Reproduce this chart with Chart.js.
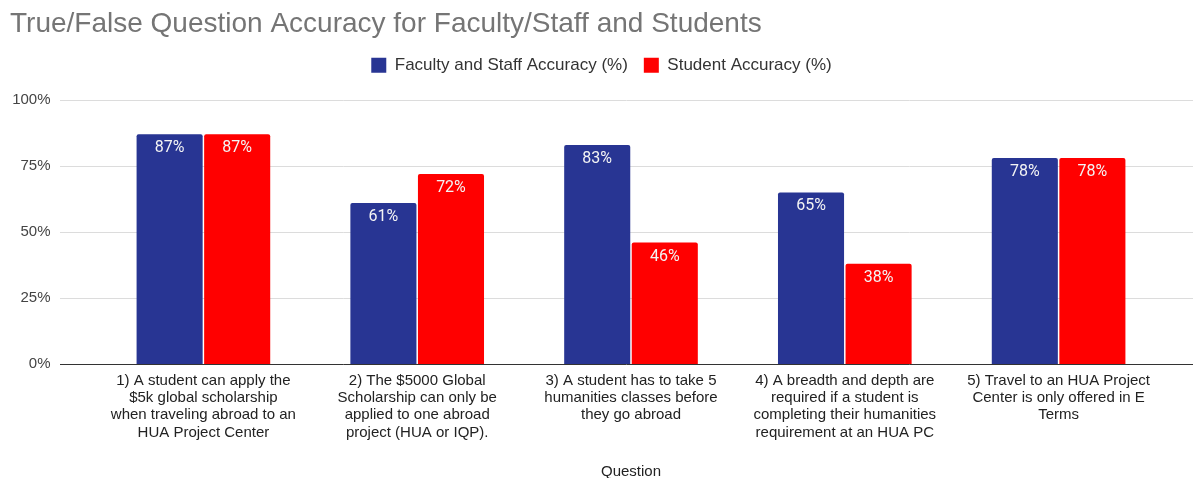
<!DOCTYPE html>
<html>
<head>
<meta charset="utf-8">
<script src="https://cdn.jsdelivr.net/npm/chart.js@4.4.0/dist/chart.umd.min.js"></script>
<style>
  html, body { margin: 0; padding: 0; background: #fff; }
  #wrap { width: 1193px; height: 478px; }
</style>
</head>
<body>
<div id="wrap"><canvas id="chart"></canvas></div>
<script>
const questions = [
  ['1) A student can apply the', '$5k global scholarship', 'when traveling abroad to an', 'HUA Project Center'],
  ['2) The $5000 Global', 'Scholarship can only be', 'applied to one abroad', 'project (HUA or IQP).'],
  ['3) A student has to take 5', 'humanities classes before', 'they go abroad'],
  ['4) A breadth and depth are', 'required if a student is', 'completing their humanities', 'requirement at an HUA PC'],
  ['5) Travel to an HUA Project', 'Center is only offered in E', 'Terms']
];
const facultyStaff = [87, 61, 83, 65, 78];
const students = [87, 72, 46, 38, 78];
const yTicks = [0, 25, 50, 75, 100];

const FONT = '"Liberation Sans", Arial, sans-serif';

// horizontal gridlines run wider than the bar area, like the original
const wideGrid = {
  id: 'wideGrid',
  beforeDatasetsDraw(chart) {
    const { ctx, scales: { y } } = chart;
    ctx.save();
    yTicks.forEach(v => {
      const py = Math.round(y.getPixelForValue(v)) + 0.5;
      ctx.strokeStyle = v === 0 ? '#333333' : '#dcdcdc';
      ctx.lineWidth = 1;
      ctx.beginPath();
      ctx.moveTo(60, py);
      ctx.lineTo(chart.width, py);
      ctx.stroke();
    });
    ctx.restore();
  }
};

// percentage labels inside the top of each bar
const barLabels = {
  id: 'barLabels',
  afterDatasetsDraw(chart) {
    const { ctx } = chart;
    ctx.save();
    ctx.font = '16px "Roboto", "Liberation Sans", sans-serif';
    ctx.fillStyle = '#f4f4f4';
    ctx.textAlign = 'center';
    ctx.textBaseline = 'middle';
    chart.data.datasets.forEach((ds, i) => {
      chart.getDatasetMeta(i).data.forEach((bar, j) => {
        ctx.fillText(ds.data[j] + '%', bar.x, bar.y + 14);
      });
    });
    ctx.restore();
  }
};

new Chart(document.getElementById('chart'), {
  type: 'bar',
  data: {
    labels: questions,
    datasets: [
      {
        label: 'Faculty and Staff Accuracy (%)',
        data: facultyStaff,
        backgroundColor: '#283593',
        borderRadius: 2,
        borderSkipped: 'bottom'
      },
      {
        label: 'Student Accuracy (%)',
        data: students,
        backgroundColor: '#ff0000',
        borderRadius: 2,
        borderSkipped: 'bottom'
      }
    ]
  },
  options: {
    responsive: true,
    maintainAspectRatio: false,
    animation: false,
    layout: { padding: { left: 10, right: 0, top: 0, bottom: 0 } },
    datasets: {
      bar: { categoryPercentage: 0.632, barPercentage: 0.978 }
    },
    plugins: {
      title: {
        display: true,
        text: 'True/False Question Accuracy for Faculty/Staff and Students',
        align: 'start',
        color: '#757575',
        font: { family: FONT, size: 28, weight: 'normal' },
        padding: { top: 7.2, bottom: 0 }
      },
      // empty spacer under the legend
      subtitle: {
        display: true,
        text: ' ',
        weight: 500,
        font: { size: 10, lineHeight: 1 },
        padding: { top: 0, bottom: 6.2 }
      },
      legend: {
        position: 'top',
        labels: {
          color: '#333333',
          font: { family: FONT, size: 17 },
          boxWidth: 15,
          boxHeight: 15,
          padding: 16
        }
      },
      tooltip: { enabled: false }
    },
    scales: {
      x: {
        grid: { display: false, drawTicks: false },
        border: { display: false },
        ticks: {
          color: '#222222',
          font: { family: FONT, size: 15, lineHeight: 1.15 },
          padding: 8,
          maxRotation: 0,
          autoSkip: false
        },
        title: {
          display: true,
          text: 'Question',
          color: '#222222',
          font: { family: FONT, size: 15 },
          padding: { top: 0, bottom: -3 }
        },
        afterFit(scale) { scale.height = 114; }
      },
      y: {
        min: 0,
        max: 100,
        grid: { display: false, drawTicks: false },
        border: { display: false },
        ticks: {
          stepSize: 25,
          color: '#444444',
          font: { family: FONT, size: 15 },
          padding: 46,
          callback: v => v + '%'
        },
        afterFit(scale) { scale.width = 86.5; }
      },
      spacer: {
        type: 'linear',
        position: 'right',
        display: true,
        grid: { display: false, drawTicks: false },
        border: { display: false },
        ticks: { display: false },
        afterFit(scale) { scale.width = 27.5; }
      }
    }
  },
  plugins: [wideGrid, barLabels]
});
</script>
</body>
</html>
